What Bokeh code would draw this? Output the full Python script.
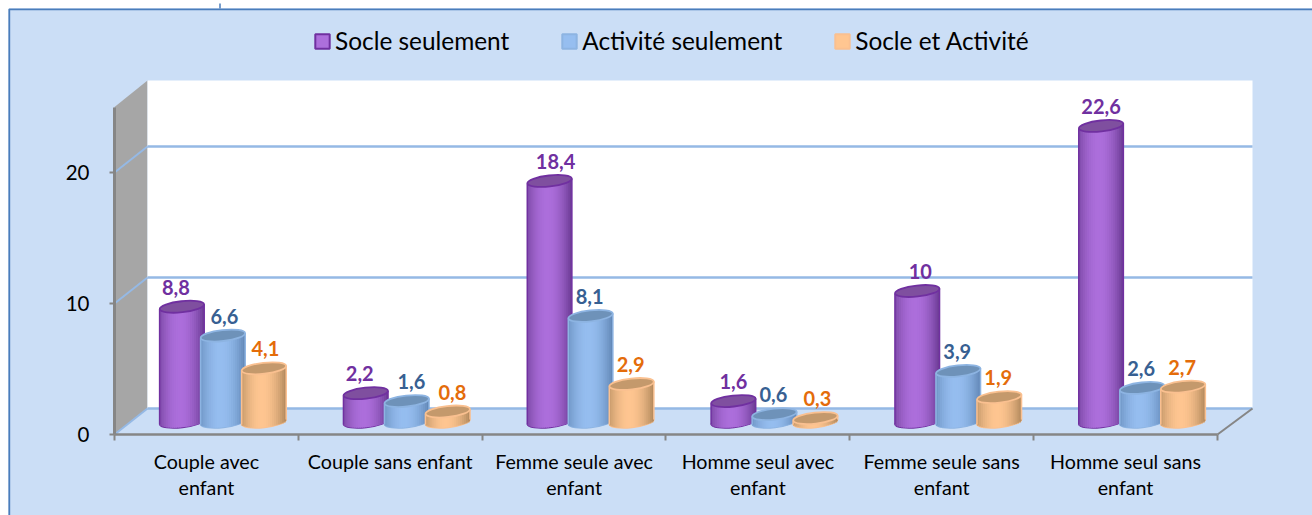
import math
from bokeh.core.properties import value
from bokeh.embed import file_html
from bokeh.models import (ColumnDataSource, FixedTicker, Legend, LegendItem, Range1d)
from bokeh.plotting import figure
from bokeh.resources import INLINE

categories = ["Couple avec\nenfant", "Couple sans enfant", "Femme seule avec\nenfant",
              "Homme seul avec\nenfant", "Femme seule sans\nenfant", "Homme seul sans\nenfant"]
series_names = ["Socle seulement", "Activité seulement", "Socle et Activité"]
socle = [8.8, 2.2, 18.4, 1.6, 10, 22.6]
activite = [6.6, 1.6, 8.1, 0.6, 3.9, 2.6]
socle_activite = [4.1, 0.8, 2.9, 0.3, 1.9, 2.7]
y_ticks = [0, 10, 20]
y_max = 25

# layout (pixels)
W, H = 1312, 515
X0, Y0 = 114, 434   # where category 0 / value 0 sit
PX = 183.83         # px per category
PY = 13.1           # px per value unit


def xd(px):
    return (px - X0) / PX


def yd(py):
    return (Y0 - py) / PY


DEPTH_X, DEPTH_Y = 33 / PX, 26 / PY
BG = "#CBDEF6"
GRID = "#95B9E5"
AXIS = "#868686"
FRAME = "#4A7DBB"
FONT = value("Lato")

styles = [
    dict(light=(173, 111, 220), dark=(106, 58, 146), top="#7F4F9F", line="#7030A0", text="#7030A0"),
    dict(light=(150, 190, 240), dark=(96, 134, 181), top="#6E92B9", line="#8DB4E2", text="#376092"),
    dict(light=(255, 198, 145), dark=(176, 136, 92), top="#C4996C", line="#FAC090", text="#E46C0A"),
]
# horizontal nudges of the value labels, in px
label_dx = [
    [-6, -6, 6, 0, 3, 0],
    [1.5, 4.6, -1, -1, -1, -1],
    [1.5, 4.6, -1, 2, -1, -1],
]

p = figure(width=W, height=H, output_backend="svg", toolbar_location=None,
           x_range=Range1d(xd(0), xd(W)), y_range=Range1d(yd(H), yd(0)),
           min_border=0, background_fill_color="white", border_fill_color="white", outline_line_color=None)
p.grid.visible = False

# chart area with its frame on the left and top
p.quad(left=[xd(8)], right=[xd(W)], bottom=[yd(H)], top=[yd(8)], fill_color=BG, line_color=None)
p.line([xd(8.8), xd(8.8), xd(W)], [yd(H), yd(8.8), yd(8.8)], line_color=FRAME, line_width=1.8)
p.line([xd(219.5), xd(219.5)], [yd(3), yd(8)], line_color=FRAME, line_width=1.5)

# side wall and back wall
xr = xd(1252)
yt = yd(80)
p.patch([0, DEPTH_X, DEPTH_X, 0], [0, DEPTH_Y, yt, y_max], fill_color="#A6A6A6", line_color=None)
p.quad(left=[DEPTH_X], right=[xr], bottom=[DEPTH_Y], top=[yt], fill_color="white", line_color=None)

# grid: along the wall, then along the back
for v in y_ticks:
    p.line([0, DEPTH_X], [v, v + DEPTH_Y], line_color=GRID, line_width=2)
    p.line([DEPTH_X, xr], [v + DEPTH_Y, v + DEPTH_Y], line_color=GRID, line_width=2.5)
p.line([len(categories), xr], [0, DEPTH_Y], line_color=AXIS, line_width=2)

# cylinders
A, B, TILT = 22.3, 5.5, 0.11
STRIPS = 22
base_y = 12.5 / PY
centre0 = 16.5 / PX + 0.5
step = 41 / PX
legend_items = []
all_series = [socle, activite, socle_activite]
for s, vals in enumerate(all_series):
    st = styles[s]
    xc = [centre0 + i + (s - 1) * step for i in range(len(vals))]
    tops = [base_y + v for v in vals]
    p.ellipse(xc, [base_y] * len(vals), width=2 * A, height=2 * B, angle=TILT,
              width_units="screen", height_units="screen",
              fill_color=st["line"], line_color=st["line"], line_width=1.5)
    # plain core of each bar, hidden by the shaded strips; the legend swatch takes its style from it
    core = p.quad(left=[c - 10 / PX for c in xc], right=[c + 10 / PX for c in xc],
                  bottom=[base_y] * len(vals), top=tops,
                  fill_color="#%02x%02x%02x" % st["light"], line_color=st["line"], line_width=2)
    legend_items.append(LegendItem(label=series_names[s], renderers=[core]))
    ql, qr, qb, qt, qc = [], [], [], [], []
    for cx, ty in zip(xc, tops):
        for k in range(STRIPS):
            t0 = -1 + 2 * k / STRIPS
            t1 = -1 + 2 * (k + 1) / STRIPS
            tm = (t0 + t1) / 2
            dx = tm * A
            u = min(1.0, abs(tm + 0.1) / 1.1)
            w = u ** 1.9
            col = tuple(int(st["light"][c] * (1 - w) + st["dark"][c] * w) for c in range(3))
            ql.append(cx + t0 * A / PX)
            # each strip runs under its neighbour, so that no seam shows
            qr.append(cx + min(1.0, t1 + 1.5 / A) * A / PX)
            qb.append(base_y + (TILT * dx - B * math.sqrt(max(0, 1 - tm * tm)) + 0.3) / PY)
            qt.append(ty + TILT * dx / PY)
            qc.append("#%02x%02x%02x" % col)
    p.quad(left=ql, right=qr, bottom=qb, top=qt, fill_color=qc, line_color=None)
    p.segment(x0=[c - A / PX for c in xc], y0=[base_y - TILT * A / PY] * len(vals),
              x1=[c - A / PX for c in xc], y1=[t - TILT * A / PY for t in tops],
              line_color=st["line"], line_width=1.5)
    p.segment(x0=[c + A / PX for c in xc], y0=[base_y + TILT * A / PY] * len(vals),
              x1=[c + A / PX for c in xc], y1=[t + TILT * A / PY for t in tops],
              line_color=st["line"], line_width=1.5)
    p.ellipse(xc, tops, width=2 * A, height=2 * B, angle=TILT,
              width_units="screen", height_units="screen",
              fill_color=st["top"], line_color=st["line"], line_width=1.8)

for s, vals in enumerate(all_series):
    st = styles[s]
    src = ColumnDataSource(dict(
        x=[centre0 + i + (s - 1) * step for i in range(len(vals))],
        y=[base_y + v for v in vals],
        t=[str(v).replace(".", ",") for v in vals],
        dx=label_dx[s],
    ))
    p.text("x", "y", text="t", x_offset="dx", y_offset=-19.5, source=src, text_font=FONT,
           text_font_size="20px", text_font_style="bold", text_color=st["text"],
           text_align="center", text_baseline="middle")

# axes
p.xaxis.fixed_location = 0
p.xaxis.bounds = (0, len(categories))
p.xaxis.ticker = FixedTicker(ticks=[i + 0.5 for i in range(len(categories))],
                             minor_ticks=list(range(len(categories) + 1)))
p.xaxis.major_label_overrides = {i + 0.5: c for i, c in enumerate(categories)}
p.xaxis.major_tick_line_color = None
p.xaxis.major_tick_in = 0
p.xaxis.major_tick_out = 0
p.xaxis.minor_tick_in = 0
p.xaxis.minor_tick_out = 6
p.xaxis.minor_tick_line_color = AXIS
p.xaxis.minor_tick_line_width = 2
p.xaxis.axis_line_color = AXIS
p.xaxis.axis_line_width = 2.5
p.xaxis.major_label_standoff = 9
p.xaxis.major_label_text_font = "Lato"
p.xaxis.major_label_text_font_size = "19.7px"
p.xaxis.major_label_text_color = "#000000"
p.xaxis.major_label_text_line_height = 1.15

p.yaxis.fixed_location = 0
p.yaxis.bounds = (0, y_max)
p.yaxis.ticker = FixedTicker(ticks=y_ticks)
p.yaxis.minor_tick_line_color = None
p.yaxis.major_tick_in = 0
p.yaxis.major_tick_out = 5
p.yaxis.major_tick_line_color = AXIS
p.yaxis.major_tick_line_width = 2
p.yaxis.axis_line_color = AXIS
p.yaxis.axis_line_width = 3
p.yaxis.major_label_standoff = 20
p.yaxis.major_label_text_font = "Lato"
p.yaxis.major_label_text_font_size = "20.5px"
p.yaxis.major_label_text_color = "#000000"

# legend
legend = Legend(items=legend_items, orientation="horizontal", location=(313, 460),
                background_fill_alpha=0, border_line_color=None, margin=0, padding=0,
                spacing=51, label_standoff=4, glyph_width=18, glyph_height=18,
                label_text_font="Lato", label_text_font_size="24.4px", label_text_color="#000000")
p.add_layout(legend)

open("out.html", "w").write(file_html(p, INLINE))
